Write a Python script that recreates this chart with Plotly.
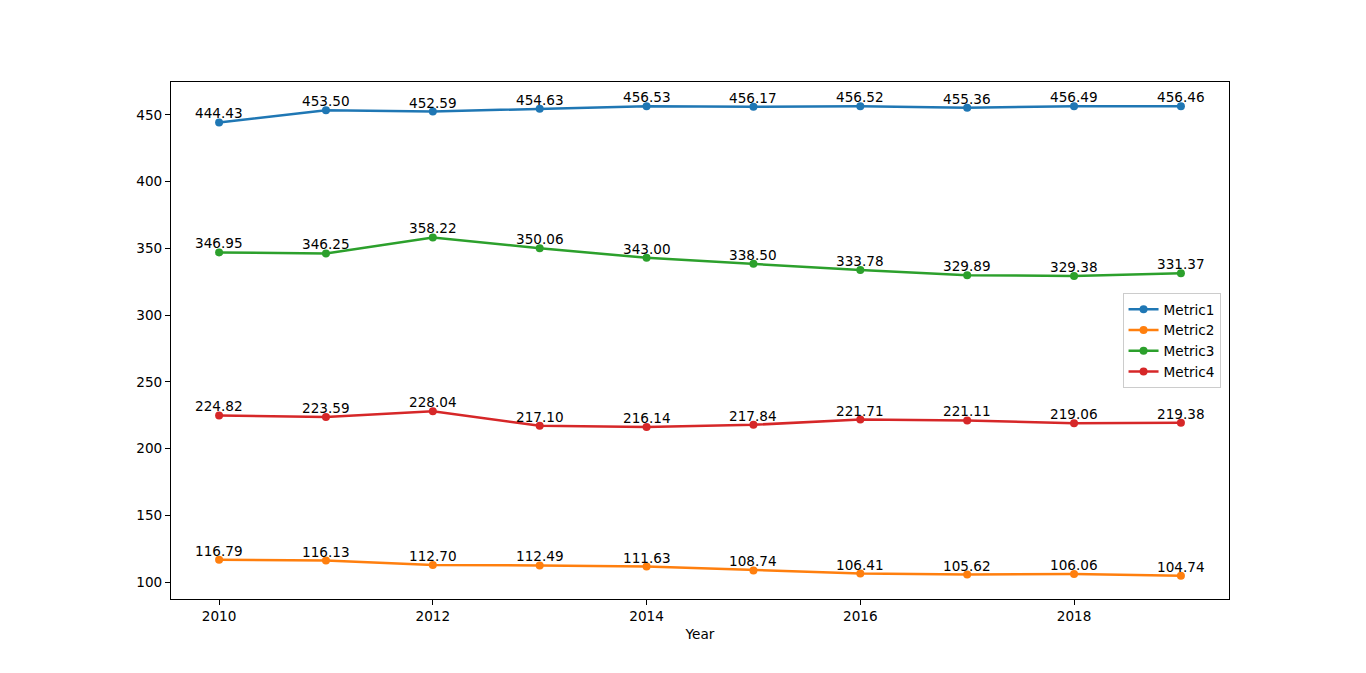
import plotly.graph_objects as go

years = [2010, 2011, 2012, 2013, 2014, 2015, 2016, 2017, 2018, 2019]
metric1 = [444.43, 453.50, 452.59, 454.63, 456.53, 456.17, 456.52, 455.36, 456.49, 456.46]
metric2 = [116.79, 116.13, 112.70, 112.49, 111.63, 108.74, 106.41, 105.62, 106.06, 104.74]
metric3 = [346.95, 346.25, 358.22, 350.06, 343.00, 338.50, 333.78, 329.89, 329.38, 331.37]
metric4 = [224.82, 223.59, 228.04, 217.10, 216.14, 217.84, 221.71, 221.11, 219.06, 219.38]

series = [("Metric1", metric1, "#1f77b4"),
          ("Metric2", metric2, "#ff7f0e"),
          ("Metric3", metric3, "#2ca02c"),
          ("Metric4", metric4, "#d62728")]

FS = 13.6

fig = go.Figure()
annotations = []
for name, vals, color in series:
    fig.add_trace(go.Scatter(x=years, y=vals, mode="lines+markers", name=name,
                             line=dict(color=color, width=2.5),
                             marker=dict(color=color, size=8)))
    for x, v in zip(years, vals):
        annotations.append(dict(x=x, y=v, text=f"{v:.2f}", showarrow=False,
                                xanchor="center", yanchor="bottom", yshift=-1,
                                font=dict(size=FS, color="black", family="DejaVu Sans")))

fig.update_layout(
    width=1366, height=673,
    paper_bgcolor="white", plot_bgcolor="white",
    margin=dict(l=163, r=145, t=74, b=82),
    font=dict(family="DejaVu Sans", size=FS, color="black"),
    annotations=annotations,
    showlegend=True,
    legend=dict(x=0.992, xanchor="right", y=0.5, yanchor="middle",
                bordercolor="#cccccc", borderwidth=1, bgcolor="rgba(255,255,255,0.8)",
                font=dict(size=FS, family="DejaVu Sans"), tracegroupgap=0, itemwidth=30),
    xaxis=dict(title=dict(text="Year", standoff=6, font=dict(size=FS)), range=[2009.55, 2019.45],
               tickvals=[2010, 2012, 2014, 2016, 2018], tickfont=dict(size=FS),
               showgrid=False, zeroline=False, showline=True, linecolor="black",
               linewidth=1, mirror=True, ticks="outside", ticklen=5, tickcolor="black"),
    yaxis=dict(range=[87.3, 474.7], tickvals=[100, 150, 200, 250, 300, 350, 400, 450],
               tickfont=dict(size=FS),
               showgrid=False, zeroline=False, showline=True, linecolor="black",
               linewidth=1, mirror=True, ticks="outside", ticklen=5, tickcolor="black"),
)

fig.write_html("out.html")
